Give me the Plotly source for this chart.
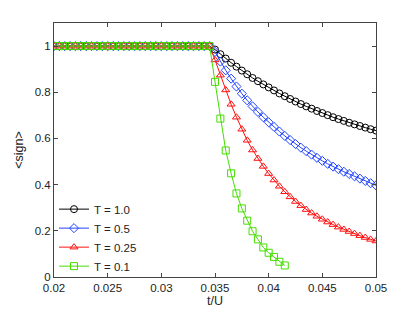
import plotly.graph_objects as go

x_flat = [0.02, 0.0205, 0.021, 0.0215, 0.022, 0.0225, 0.023, 0.0235, 0.024, 0.0245,
          0.025, 0.0255, 0.026, 0.0265, 0.027, 0.0275, 0.028, 0.0285, 0.029, 0.0295,
          0.03, 0.0305, 0.031, 0.0315, 0.032, 0.0325, 0.033, 0.0335, 0.034, 0.0345]
y_flat = [1.0] * 30  # all series sit at exactly 1 before t/U = 0.035

x_tail = [0.035, 0.0355, 0.036, 0.0365, 0.037, 0.0375, 0.038, 0.0385, 0.039, 0.0395,
          0.04, 0.0405, 0.041, 0.0415, 0.042, 0.0425, 0.043, 0.0435, 0.044, 0.0445,
          0.045, 0.0455, 0.046, 0.0465, 0.047, 0.0475, 0.048, 0.0485, 0.049, 0.0495, 0.05]

y_T10 = [0.985, 0.965, 0.946, 0.928, 0.911, 0.894, 0.878, 0.862, 0.848, 0.834,
         0.821, 0.808, 0.795, 0.783, 0.771, 0.760, 0.749, 0.739, 0.729, 0.719,
         0.710, 0.701, 0.692, 0.684, 0.676, 0.668, 0.661, 0.654, 0.647, 0.640, 0.634]
y_T05 = [0.975, 0.933, 0.895, 0.859, 0.825, 0.794, 0.765, 0.739, 0.715, 0.692,
         0.670, 0.650, 0.630, 0.611, 0.593, 0.576, 0.560, 0.545, 0.530, 0.516,
         0.503, 0.490, 0.478, 0.467, 0.456, 0.446, 0.436, 0.426, 0.416, 0.406, 0.397]
y_T025 = [0.940, 0.874, 0.810, 0.748, 0.692, 0.640, 0.592, 0.550, 0.513, 0.479,
          0.448, 0.420, 0.393, 0.369, 0.347, 0.327, 0.309, 0.292, 0.277, 0.263,
          0.250, 0.238, 0.227, 0.216, 0.206, 0.197, 0.188, 0.179, 0.171, 0.163, 0.156]
y_T01 = [0.845, 0.686, 0.548, 0.449, 0.362, 0.297, 0.244, 0.198, 0.163, 0.128,
         0.105, 0.087, 0.066, 0.050]

names = ["T = 1.0", "T = 0.5", "T = 0.25", "T = 0.1"]
colors = ["#000000", "#2244ff", "#ff1010", "#44dd00"]
symbols = ["circle-open", "diamond-open", "triangle-up-open", "square-open"]
tails = [y_T10, y_T05, y_T025, y_T01]

x_ticks = [0.02, 0.025, 0.03, 0.035, 0.04, 0.045, 0.05]
x_labels = ["0.02", "0.025", "0.03", "0.035", "0.04", "0.045", "0.05"]
y_ticks = [0, 0.2, 0.4, 0.6, 0.8, 1.0]
y_labels = ["0", "0.2", "0.4", "0.6", "0.8", "1"]

fig = go.Figure()
for name, col, sym, tail in zip(names, colors, symbols, tails):
    xs = x_flat + x_tail[:len(tail)]
    ys = y_flat + tail
    fig.add_trace(go.Scatter(
        x=xs, y=ys, mode="lines+markers", name=name,
        line=dict(color=col, width=1),
        marker=dict(symbol=sym, size=7, color=col, line=dict(color=col, width=1)),
    ))

font = "Liberation Sans, Arial, Helvetica, sans-serif"
fig.update_layout(
    width=415, height=313,
    margin=dict(l=54, r=39, t=23, b=36),
    paper_bgcolor="white", plot_bgcolor="white",
    font=dict(family=font, size=11.5, color="#222"),
    showlegend=True,
    legend=dict(x=0.0, y=0.155, xanchor="left", yanchor="middle",
                bgcolor="rgba(255,255,255,0)", borderwidth=0,
                font=dict(size=11.5, color="#222"), tracegroupgap=0,
                itemwidth=30),
    xaxis=dict(range=[0.02, 0.05], tickvals=x_ticks, ticktext=x_labels,
               ticks="inside", ticklen=4, tickcolor="#444", showline=True,
               linecolor="#444", linewidth=1, mirror="ticks", showgrid=False,
               zeroline=False, automargin=False,
               title=dict(text="t/U", font=dict(size=12.5), standoff=2)),
    yaxis=dict(range=[0, 1.1], tickvals=y_ticks, ticktext=y_labels,
               ticks="inside", ticklen=4, tickcolor="#444", showline=True,
               linecolor="#444", linewidth=1, mirror="ticks", showgrid=False,
               zeroline=False, automargin=False,
               title=dict(text="&lt;sign&gt;", font=dict(size=12.5), standoff=8)),
)

fig.write_html("out.html", config={"displayModeBar": False},
               post_script="document.body.style.margin='0';document.body.style.padding='0';")
